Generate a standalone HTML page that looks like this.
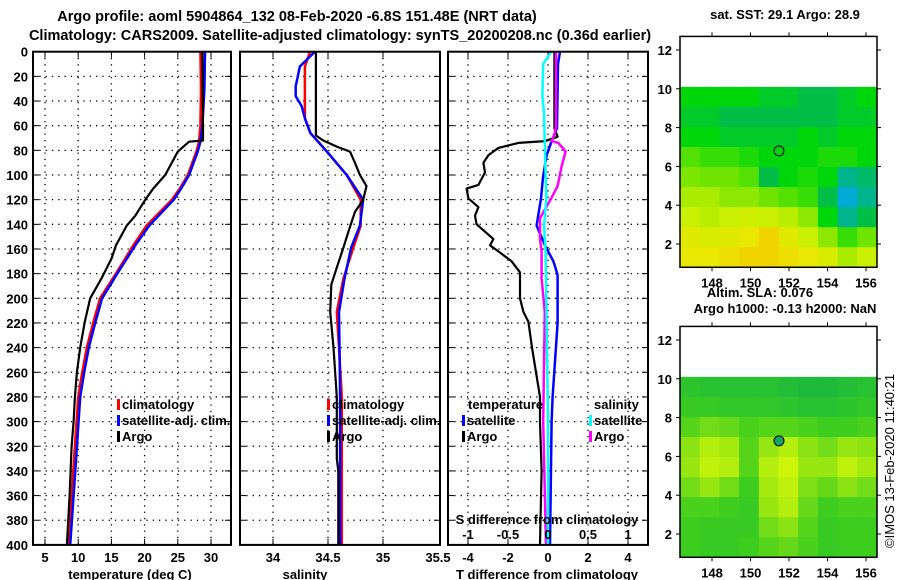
<!DOCTYPE html>
<html><head><meta charset="utf-8"><style>
html,body{margin:0;padding:0;background:#fff}
svg{display:block}
text{font-family:"Liberation Sans",sans-serif;font-weight:bold;font-size:13px;fill:#000}
</style></head><body>
<svg id="fig" width="900" height="580" viewBox="0 0 900 580">
<text x="297" y="21" text-anchor="middle" style="font-size:14.5px">Argo profile: aoml 5904864_132 08-Feb-2020 -6.8S 151.48E (NRT data)</text>
<text x="340" y="40" text-anchor="middle" style="font-size:14.5px">Climatology: CARS2009. Satellite-adjusted climatology: synTS_20200208.nc (0.36d earlier)</text>
<text x="785" y="19" text-anchor="middle">sat. SST: 29.1 Argo: 28.9</text>
<text x="760" y="297" text-anchor="middle">Altim. SLA: 0.076</text>
<text x="785" y="313" text-anchor="middle">Argo h1000: -0.13 h2000: NaN</text>
<text x="894" y="548" transform="rotate(-90 894 548)" style="font-weight:normal;font-size:13px">©IMOS 13-Feb-2020 11:40:21</text>
<g id="plots"></g>
</svg>
<script>
// ---------- profile data ----------
const depthsArgoT = [0,62,72,73,81,88,100,111,120,133,141,157,168,184,200,219,240,260,280,300,320,360,400];
const argoTemp    = [28.7,28.8,28.8,26.7,25.0,24.3,23.1,21.3,20.1,18.6,17.3,15.7,15.0,13.5,11.8,11.0,10.3,9.8,9.5,9.3,9.0,8.7,8.3];
const depthsClim  = [0,30,60,73,81,100,111,120,141,157,179,200,219,240,260,280,320,360,400];
const climTemp    = [28.4,28.5,28.4,28.2,27.8,26.5,25.3,24.1,20.3,18.3,15.8,13.3,12.3,11.3,10.6,10.0,9.5,9.0,8.5];
const satTemp     = [29.1,29.0,28.7,28.4,28.0,26.7,25.5,24.4,20.7,18.6,16.0,13.6,12.6,11.6,10.9,10.3,9.8,9.3,8.8];

const depthsArgoS = [0,68,72,77,81,90,100,109,120,130,146,159,175,189,211,240,280,330,340,400];
const argoSal     = [34.39,34.39,34.457,34.58,34.70,34.745,34.79,34.85,34.82,34.745,34.685,34.64,34.58,34.53,34.52,34.55,34.58,34.58,34.594,34.594];
const depthsClimS = [0,12,28,36,44,54,66,81,100,120,141,159,184,211,240,280,340,400];
const climSal     = [34.336,34.29,34.29,34.29,34.29,34.29,34.34,34.49,34.67,34.797,34.797,34.73,34.64,34.58,34.6,34.625,34.625,34.625];
const satSal      = [34.38,34.245,34.206,34.206,34.26,34.29,34.34,34.49,34.67,34.82,34.79,34.71,34.65,34.60,34.605,34.61,34.61,34.61];

const depthsDT  = [0,62,69,72.5,74,78,84,90,98,108,111,119,126,133,140,152,157,162,170,179,200,211,219,240,260,280,300,340,400];
const argoDT    = [0.32,0.32,0.48,-0.15,-1.48,-2.48,-2.98,-3.23,-3.15,-3.48,-4.07,-3.98,-3.48,-3.65,-3.57,-2.73,-2.9,-2.48,-1.82,-1.4,-1.4,-1.23,-0.98,-0.8,-0.6,-0.4,-0.4,-0.32,-0.4];
const depthsSD  = [0,10,62,74,84,102,119,141,157,170,181,220,280,300,400];
const satDT     = [0.6,0.5,0.45,0.15,-0.07,-0.25,-0.35,-0.57,-0.15,0.27,0.48,0.48,0.23,0.18,0.1];
const depthsDS  = [0,62,69,72.5,74,81,93,109,119,135,152,162,184,211,300,400];
const argoDS    = [0.1,0.1,0.07,0.046,0.13,0.22,0.17,0.12,0.04,-0.1,-0.1,-0.08,-0.08,-0.04,-0.06,-0.025];
const depthsCS  = [0,10,36,49,100,119,141,162,211,300,400];
const satDS     = [0.04,-0.06,-0.07,-0.05,-0.03,-0.02,-0.05,-0.03,-0.02,0,0];

// ---------- ticks ----------
const depthTicks = [0,20,40,60,80,100,120,140,160,180,200,220,240,260,280,300,320,340,360,380,400];
const tempTicks = [5,10,15,20,25,30];
const salTicks = [34,34.5,35,35.5];
const salTickLabels = ["34","34.5","35","35.5"];
const dtTicks = [-4,-2,0,2,4];
const dsTicks = [-1,-0.5,0,0.5,1];
const dsTickLabels = ["-1","-0.5","0","0.5","1"];
const latTicks = [2,4,6,8,10,12];
const lonTicks = [148,150,152,154,156];

// ---------- map data (rows lat 10->1, cols lon 146.5->156.5) ----------
const sstGrid = [
 [28.9,28.9,28.9,28.9,28.85,28.85,28.8,28.8,28.85,28.9],
 [28.85,28.85,28.8,28.8,28.8,28.8,28.8,28.8,28.85,28.85],
 [28.9,28.9,28.85,28.85,28.85,28.85,28.9,28.85,28.9,28.9],
 [29.05,29.0,29.0,28.95,28.9,28.9,28.9,28.95,28.95,28.9],
 [29.15,29.1,29.1,29.05,28.8,28.9,28.95,28.9,28.7,28.75],
 [29.3,29.3,29.2,29.2,29.1,29.05,29.0,28.8,28.6,28.7],
 [29.4,29.35,29.4,29.45,29.4,29.35,29.2,28.9,28.7,28.8],
 [29.55,29.5,29.55,29.6,29.7,29.55,29.4,29.2,29.0,29.1],
 [29.6,29.6,29.65,29.7,29.7,29.65,29.6,29.5,29.3,29.4]
];
const slaGrid = [
 [0.25,0.2,0.2,0.2,0.2,0.15,0.1,0.1,0.15,0.2],
 [0.35,0.35,0.3,0.3,0.3,0.25,0.2,0.2,0.25,0.3],
 [0.5,0.6,0.55,0.45,0.5,0.5,0.45,0.4,0.4,0.45],
 [0.7,0.85,0.8,0.5,0.75,0.85,0.7,0.6,0.75,0.7],
 [0.75,0.9,0.85,0.5,0.85,0.95,0.75,0.75,0.9,0.8],
 [0.6,0.75,0.6,0.4,0.8,0.9,0.65,0.55,0.7,0.6],
 [0.45,0.45,0.4,0.35,0.75,0.85,0.55,0.4,0.45,0.45],
 [0.4,0.35,0.35,0.35,0.6,0.7,0.5,0.35,0.4,0.4],
 [0.4,0.35,0.35,0.4,0.5,0.55,0.45,0.35,0.4,0.4]
];
const argoLon = 151.48, argoLat = 6.8;

// ---------- helpers ----------
const NS = "http://www.w3.org/2000/svg";
const root = document.getElementById('plots');
function mk(tag, attrs, parent){const e=document.createElementNS(NS,tag);for(const k in attrs)e.setAttribute(k,attrs[k]);(parent||root).appendChild(e);return e;}
const yD = d => 51.7 + d*1.233;
const xT = t => 45 + (t-5)*6.64;
const xS = s => 273 + (s-34)*110;
const xDT = v => 548 + v*20;
const xDS = v => 548 + v*80;

function panel(name){
  const g = mk('g',{});
  
  
  return g;
}
function hgrid(g,x0,x1){
  depthTicks.forEach(d=>{
    if(d>0&&d<400){const l=mk('line',{x1:x0,x2:x1,y1:yD(d),y2:yD(d),stroke:'#000','stroke-width':1.3,'stroke-dasharray':'1.3 5'},g);
      
      }
    mk('line',{x1:x0,x2:x0+6,y1:yD(d),y2:yD(d),stroke:'#000','stroke-width':1},g);
    mk('line',{x1:x1-6,x2:x1,y1:yD(d),y2:yD(d),stroke:'#000','stroke-width':1},g);
  });
}
function vgrid(g,xs,fn){
  xs.forEach(v=>{const x=fn(v);
    const l=mk('line',{x1:x,x2:x,y1:yD(0),y2:yD(400),stroke:'#000','stroke-width':1.3,'stroke-dasharray':'1.3 5'},g);
    
    
    mk('line',{x1:x,x2:x,y1:yD(0),y2:yD(0)+6,stroke:'#000'},g);
    mk('line',{x1:x,x2:x,y1:yD(400)-6,y2:yD(400),stroke:'#000'},g);
  });
}
function frame(g,x0,x1){
  const r=mk('rect',{x:x0,y:yD(0),width:x1-x0,height:yD(400)-yD(0),fill:'none',stroke:'#000','stroke-width':2},g);
  
  
}
function line(g,ds,vs,fx,color,w,name){
  const pts = ds.map((d,i)=>fx(vs[i]).toFixed(1)+','+yD(d).toFixed(1)).join(' ');
  const p=mk('polyline',{points:pts,fill:'none',stroke:color,'stroke-width':w,'stroke-linejoin':'round'},g);
  
  
}
function txt(g,x,y,s,anchor,name,extra){
  const t=mk('text',Object.assign({x:x,y:y,'text-anchor':anchor||'start'},extra||{}),g);
  t.textContent=s;
  
  
  return t;
}
function legendItem(g,x,y,color,label,name){
  if(color) mk('rect',{x:x,y:y-10,width:3,height:11,fill:color},g);
  txt(g,x+5,y,label,'start',name);
}

// ---------- Panel 1: temperature ----------
let g = panel('temperature-panel');
hgrid(g,33,231); vgrid(g,tempTicks,xT);
line(g,depthsClim,climTemp,xT,'#f00',2.5,'climatology-temperature-line');
line(g,depthsClim,satTemp,xT,'#00f',2.5,'satellite-temperature-line');
line(g,depthsArgoT,argoTemp,xT,'#000',2.2,'argo-temperature-line');
frame(g,33,231);
depthTicks.forEach(d=>txt(g,28,yD(d)+5,String(d),'end','depth-tick-label'));
tempTicks.forEach(t=>txt(g,xT(t),562,String(t),'middle','temperature-tick-label'));
txt(g,130,579,'temperature (deg C)','middle','temperature-axis-title');
legendItem(g,117,409,'#f00','climatology','legend-climatology');
legendItem(g,117,425,'#00f','satellite-adj. clim.','legend-satellite-adj');
legendItem(g,117,441,'#000','Argo','legend-argo');

// ---------- Panel 2: salinity ----------
g = panel('salinity-panel');
hgrid(g,240,440); vgrid(g,[34,34.5,35],xS);
line(g,depthsClimS,climSal,xS,'#f00',2.5,'climatology-salinity-line');
line(g,depthsClimS,satSal,xS,'#00f',2.5,'satellite-salinity-line');
line(g,depthsArgoS,argoSal,xS,'#000',2.2,'argo-salinity-line');
frame(g,240,440);
salTicks.forEach((s,i)=>txt(g,xS(s),562,salTickLabels[i],'middle','salinity-tick-label'));
txt(g,305,579,'salinity','middle','salinity-axis-title');
legendItem(g,327,409,'#f00','climatology','legend-climatology-2');
legendItem(g,327,425,'#00f','satellite-adj. clim.','legend-satellite-adj-2');
legendItem(g,327,441,'#000','Argo','legend-argo-2');

// ---------- Panel 3: differences ----------
g = panel('difference-panel');
hgrid(g,448,648); vgrid(g,dtTicks,xDT);
line(g,depthsDT,argoDT,xDT,'#000',2.2,'argo-temperature-difference-line');
line(g,depthsSD,satDT,xDT,'#00f',2.5,'satellite-temperature-difference-line');
line(g,depthsDS,argoDS,xDS,'#f0f',2.5,'argo-salinity-difference-line');
line(g,depthsCS,satDS,xDS,'#0ff',2.5,'satellite-salinity-difference-line');
frame(g,448,648);
dtTicks.forEach(t=>txt(g,xDT(t),562,String(t),'middle','t-difference-tick-label'));
txt(g,547,579,'T difference from climatology','middle','t-difference-axis-title');
txt(g,547,524,'S difference from climatology','middle','s-difference-axis-title');
dsTicks.forEach((s,i)=>txt(g,xDS(s),539,dsTickLabels[i],'middle','s-difference-tick-label'));
txt(g,468,409,'temperature','start','legend-temperature-heading');
legendItem(g,462,425,'#00f','satellite','legend-t-satellite');
legendItem(g,462,441,'#000','Argo','legend-t-argo');
txt(g,594,409,'salinity','start','legend-salinity-heading');
legendItem(g,589,425,'#0ff','satellite','legend-s-satellite');
legendItem(g,589,441,'#f0f','Argo','legend-s-argo');

// ---------- Maps ----------
const mX0=680, mX1=877;
const xLon = lon => 712 + (lon-148)*19.25;
function yLat(lat,off){ return 244 - (lat-2)*19.4 + off; }
function sstColor(v){
  const stops=[[28.4,[0,40,230]],[28.6,[0,170,210]],[28.8,[0,190,70]],[28.9,[0,215,10]],[29.1,[110,228,0]],[29.4,[200,240,0]],[29.6,[232,232,0]],[29.8,[250,190,0]]];
  if(v<=stops[0][0]) return 'rgb('+stops[0][1]+')';
  for(let i=1;i<stops.length;i++){ if(v<=stops[i][0]){const a=stops[i-1],b=stops[i],f=(v-a[0])/(b[0]-a[0]);
    return 'rgb('+a[1].map((c,k)=>Math.round(c+(b[1][k]-c)*f)).join(',')+')';}}
  return 'rgb('+stops[stops.length-1][1]+')';
}
function slaColor(v){
  const a=[20,180,70], m=[60,205,30], b=[205,245,10];
  let c;
  if(v<0.4){const f=v/0.4;c=a.map((x,k)=>Math.round(x+(m[k]-x)*f));}
  else {const f=Math.min(1,(v-0.4)/0.55);c=m.map((x,k)=>Math.round(x+(b[k]-x)*f));}
  return 'rgb('+c.join(',')+')';
}
function drawMap(grid,colorFn,off,name,filledMarker){
  const gm = mk('g',{});
  
  
  const top = yLat(10.1,off), bot = yLat(0.8,off);
  const rows=grid.length, cols=grid[0].length;
  const ch=(bot-top)/rows, cw=(mX1-mX0)/cols;
  grid.forEach((row,r)=>row.forEach((v,c)=>{
    const cell=mk('rect',{x:(mX0+c*cw).toFixed(2),y:(top+r*ch).toFixed(2),width:(cw+0.6).toFixed(2),height:(ch+0.6).toFixed(2),fill:colorFn(v)},gm);
    
    
  }));
  const fr=mk('rect',{x:mX0,y:yLat(12.7,off),width:mX1-mX0,height:bot-yLat(12.7,off),fill:'none',stroke:'#000','stroke-width':1.5},gm);
  
  
  latTicks.forEach(l=>{const y=yLat(l,off);
    mk('line',{x1:mX0-4,x2:mX0,y1:y,y2:y,stroke:'#000'},gm);
    mk('line',{x1:mX1,x2:mX1+4,y1:y,y2:y,stroke:'#000'},gm);
    txt(gm,672,y+5,String(l),'end','latitude-tick-label');});
  lonTicks.forEach(l=>{const x=xLon(l);
    mk('line',{x1:x,x2:x,y1:bot,y2:bot+4,stroke:'#000'},gm);
    mk('line',{x1:x,x2:x,y1:yLat(12.7,off)-4,y2:yLat(12.7,off),stroke:'#000'},gm);
    txt(gm,x,bot+20,String(l),'middle','longitude-tick-label');});
  const c=mk('circle',{cx:xLon(argoLon),cy:yLat(argoLat,off),r:5,fill:filledMarker?'#10a860':'none',stroke:'#000','stroke-width':1},gm);
  
  
}
drawMap(sstGrid,sstColor,0,'sst-map',false);
drawMap(slaGrid,slaColor,290,'sla-map',true);
</script>
</body></html>
